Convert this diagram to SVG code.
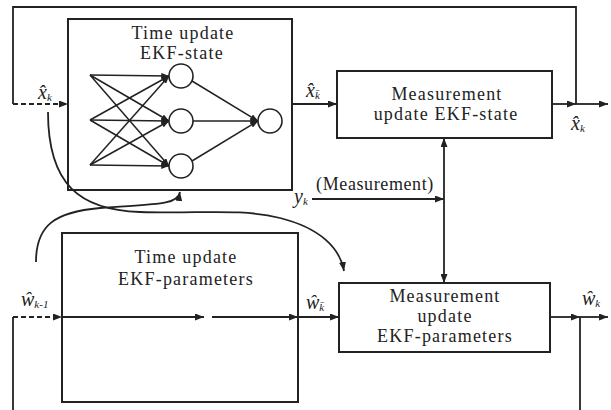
<svg xmlns="http://www.w3.org/2000/svg" width="611" height="410" viewBox="0 0 611 410">
<style>
.box{fill:#fff;stroke:#222;stroke-width:2}
.ln{fill:none;stroke:#222;stroke-width:1.8}
.dash{fill:none;stroke:#222;stroke-width:1.8;stroke-dasharray:5,3}
.nn{fill:none;stroke:#222;stroke-width:1.5}
.node{fill:#fff;stroke:#222;stroke-width:1.6}
.t{font-family:"Liberation Serif",serif;font-size:18px;fill:#222;text-anchor:middle;letter-spacing:1.2px}
.v{font-family:"Liberation Serif",serif;font-size:20px;font-style:italic;fill:#222}
.s{font-size:11px}
</style>
<defs>
<marker id="ah" viewBox="0 0 9 7" refX="9" refY="3.5" markerWidth="9" markerHeight="7" orient="auto" markerUnits="userSpaceOnUse"><path d="M0,0 L9,3.5 L0,7 z" fill="#222"/></marker>
<marker id="as" viewBox="0 0 9 7" refX="9" refY="3.5" markerWidth="8" markerHeight="6" orient="auto" markerUnits="userSpaceOnUse"><path d="M0,0 L9,3.5 L0,7 z" fill="#222"/></marker>
</defs>

<g id="time-update-state">
<rect class="box" x="68" y="19" width="224" height="171"/>
<text class="t" x="183" y="39">Time update</text>
<text class="t" x="182" y="59">EKF-state</text>
<g id="nn-edges">
<line class="nn" x1="90" y1="75" x2="169" y2="76" marker-end="url(#as)"/>
<line class="nn" x1="90" y1="75" x2="169" y2="121" marker-end="url(#as)"/>
<line class="nn" x1="90" y1="75" x2="169" y2="166" marker-end="url(#as)"/>
<line class="nn" x1="90" y1="120" x2="169" y2="76" marker-end="url(#as)"/>
<line class="nn" x1="90" y1="120" x2="169" y2="121" marker-end="url(#as)"/>
<line class="nn" x1="90" y1="120" x2="169" y2="166" marker-end="url(#as)"/>
<line class="nn" x1="90" y1="165" x2="169" y2="76" marker-end="url(#as)"/>
<line class="nn" x1="90" y1="165" x2="169" y2="121" marker-end="url(#as)"/>
<line class="nn" x1="90" y1="165" x2="169" y2="166" marker-end="url(#as)"/>
<line class="nn" x1="192" y1="81" x2="258" y2="121" marker-end="url(#as)"/>
<line class="nn" x1="193" y1="121" x2="258" y2="121" marker-end="url(#as)"/>
<line class="nn" x1="192" y1="161" x2="258" y2="121" marker-end="url(#as)"/>
</g>
<circle class="node" cx="181" cy="76" r="12"/>
<circle class="node" cx="181" cy="121" r="12"/>
<circle class="node" cx="181" cy="166" r="12"/>
<circle class="node" cx="270" cy="121" r="12"/>
</g>

<g id="measurement-update-state">
<rect class="box" x="337" y="71" width="215" height="67"/>
<text class="t" x="447" y="100">Measurement</text>
<text class="t" x="446" y="120">update  EKF-state</text>
</g>

<g id="time-update-parameters">
<rect class="box" x="62" y="233" width="236" height="169"/>
<text class="t" x="186" y="263">Time update</text>
<text class="t" x="186" y="285">EKF-parameters</text>
</g>

<g id="measurement-update-parameters">
<rect class="box" x="339" y="283" width="211" height="69"/>
<text class="t" x="445" y="302">Measurement</text>
<text class="t" x="445" y="322">update</text>
<text class="t" x="445" y="342">EKF-parameters</text>
</g>

<g id="connectors">
<polyline class="ln" points="13,104 13,7 576,7 576,104"/>
<line class="dash" x1="13" y1="104" x2="68" y2="104" marker-end="url(#ah)"/>
<line class="ln" x1="292" y1="104" x2="337" y2="104" marker-end="url(#ah)"/>
<line class="ln" x1="552" y1="104" x2="576" y2="104" marker-end="url(#ah)"/>
<line class="ln" x1="576" y1="104" x2="608" y2="104" marker-end="url(#ah)"/>
<line class="ln" x1="444" y1="199" x2="444" y2="138" marker-end="url(#ah)"/>
<line class="ln" x1="444" y1="199" x2="444" y2="283" marker-end="url(#ah)"/>
<line class="ln" x1="312" y1="199" x2="444" y2="199" marker-end="url(#ah)"/>
<line class="dash" x1="13" y1="317" x2="62" y2="317" marker-end="url(#ah)"/>
<line class="ln" x1="13" y1="317" x2="13" y2="410"/>
<line class="ln" x1="62" y1="317" x2="204" y2="317" marker-end="url(#ah)"/>
<line class="ln" x1="212" y1="317" x2="298" y2="317" marker-end="url(#ah)"/>
<line class="ln" x1="298" y1="317" x2="339" y2="317" marker-end="url(#ah)"/>
<line class="ln" x1="550" y1="317" x2="580" y2="317" marker-end="url(#ah)"/>
<line class="ln" x1="580" y1="317" x2="608" y2="317" marker-end="url(#ah)"/>
<line class="ln" x1="580" y1="317" x2="580" y2="410"/>
<path class="ln" d="M48,112 C48,185 80,210 140,212 C200,214 240,208 280,218 C320,228 340,248 344,271" marker-end="url(#ah)"/>
<path class="ln" d="M36,262 C36,225 55,212 100,208 C150,204 178,206 180,192" marker-end="url(#ah)"/>
</g>

<g id="labels">
<text class="v" x="38" y="99">x̂<tspan class="s" dy="2">k</tspan></text>
<text class="v" x="306" y="97">x̂<tspan class="s" dy="2">k̄</tspan></text>
<text class="v" x="571" y="130">x̂<tspan class="s" dy="2">k</tspan></text>
<text class="v" x="294" y="203">y<tspan class="s" dy="2">k</tspan></text>
<text class="t" x="375" y="190" style="letter-spacing:0.6px">(Measurement)</text>
<text class="v" x="21" y="306">ŵ<tspan class="s" dy="2">k-1</tspan></text>
<text class="v" x="306" y="309">ŵ<tspan class="s" dy="2">k̄</tspan></text>
<text class="v" x="582" y="305">ŵ<tspan class="s" dy="2">k</tspan></text>
</g>
</svg>
